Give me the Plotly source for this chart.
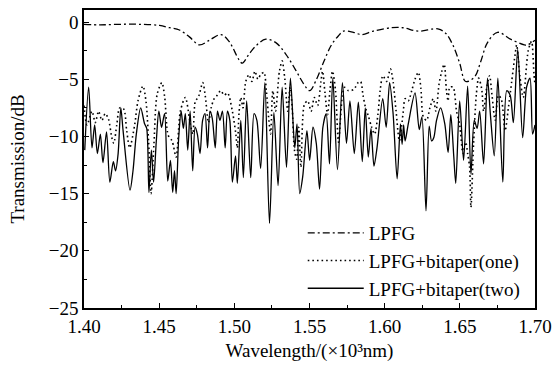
import plotly.graph_objects as go

# LPFG (dash-dot)
lpfg_x = [1.4000, 1.4106, 1.4238, 1.4370, 1.4502, 1.4569, 1.4635, 1.4701, 1.4767, 1.4833,
          1.4912, 1.4965, 1.5031, 1.5053, 1.5098, 1.5150, 1.5210, 1.5276, 1.5342, 1.5408,
          1.5461, 1.5501, 1.5547, 1.5594, 1.5646, 1.5693, 1.5726, 1.5792, 1.5846, 1.5924,
          1.6043, 1.6122, 1.6222, 1.6354, 1.6407, 1.6453, 1.6499, 1.6539, 1.6598, 1.6638,
          1.6684, 1.6751, 1.6837, 1.6929, 1.6950, 1.7000]
lpfg_y = [-0.2, -0.25, -0.2, -0.2, -0.3, -0.5, -0.7, -1.3, -2.0, -1.6,
          -1.1, -1.7, -3.3, -3.6, -2.8, -2.0, -1.5, -1.8, -2.8, -4.2,
          -5.4, -6.0, -5.0, -3.5, -2.0, -1.2, -0.8, -0.9, -1.1, -0.8,
          -0.5, -0.5, -0.8, -0.6, -1.0, -2.0, -3.6, -5.2, -4.8, -3.5,
          -1.8, -0.9, -1.5, -2.0, -2.0, -1.6]

# LPFG + bitaper (one) (dotted)
one_x = [1.4000, 1.4020, 1.4053, 1.4075, 1.4097, 1.4119, 1.4141, 1.4163, 1.4185, 1.4198,
         1.4218, 1.4238, 1.4264, 1.4284, 1.4304, 1.4337, 1.4359, 1.4392, 1.4413, 1.4430,
         1.4446, 1.4465, 1.4487, 1.4518, 1.4537, 1.4560, 1.4586, 1.4613, 1.4641, 1.4674,
         1.4707, 1.4724, 1.4741, 1.4760, 1.4790, 1.4807, 1.4828, 1.4846, 1.4866, 1.4886,
         1.4910, 1.4932, 1.4955, 1.4987, 1.5010, 1.5020, 1.5031, 1.5043, 1.5058, 1.5076,
         1.5098, 1.5117, 1.5137, 1.5157, 1.5175, 1.5197, 1.5213, 1.5230, 1.5241, 1.5256,
         1.5274, 1.5300, 1.5318, 1.5336, 1.5355, 1.5371, 1.5385, 1.5400, 1.5415, 1.5428,
         1.5443, 1.5466, 1.5488, 1.5511, 1.5532, 1.5554, 1.5576, 1.5587, 1.5603, 1.5620,
         1.5636, 1.5653, 1.5673, 1.5693, 1.5719, 1.5734, 1.5759, 1.5794, 1.5823, 1.5840,
         1.5856, 1.5873, 1.5891, 1.5911, 1.5933, 1.5955, 1.5970, 1.5988, 1.6013, 1.6038,
         1.6056, 1.6076, 1.6098, 1.6124, 1.6136, 1.6157, 1.6180, 1.6202, 1.6224, 1.6241,
         1.6257, 1.6279, 1.6301, 1.6323, 1.6341, 1.6362, 1.6378, 1.6396, 1.6411, 1.6422,
         1.6433, 1.6455, 1.6478, 1.6499, 1.6521, 1.6539, 1.6552, 1.6565, 1.6574, 1.6592,
         1.6610, 1.6625, 1.6645, 1.6658, 1.6678, 1.6698, 1.6714, 1.6735, 1.6757, 1.6777,
         1.6801, 1.6823, 1.6845, 1.6868, 1.6878, 1.6899, 1.6922, 1.6955, 1.6977, 1.6993,
         1.7000]
one_y = [-7.3, -9.0, -7.8, -8.8, -7.8, -8.6, -8.0, -8.5, -10.1, -10.6,
         -9.0, -7.5, -7.6, -9.5, -11.0, -9.0, -6.9, -5.6, -7.0, -10.5,
         -15.0, -10.7, -6.3, -5.3, -6.6, -9.9, -10.4, -11.8, -7.8, -6.6,
         -8.9, -9.8, -6.9, -6.6, -5.3, -6.5, -8.8, -7.5, -6.7, -6.4,
         -6.0, -6.4, -6.2, -7.8, -9.8, -11.0, -8.0, -6.6, -7.5, -5.2,
         -4.6, -5.2, -4.3, -5.0, -4.6, -4.4, -6.0, -8.6, -9.8, -6.0,
         -7.8, -4.3, -3.4, -5.0, -7.8, -5.7, -7.5, -11.2, -12.0, -9.2,
         -12.7, -7.2, -6.9, -7.8, -6.6, -7.3, -5.2, -4.3, -6.2, -8.1,
         -6.0, -4.3, -6.0, -10.5, -6.4, -5.7, -6.0, -5.9, -5.3, -5.2,
         -6.4, -7.5, -8.2, -9.1, -9.8, -8.1, -6.0, -4.7, -5.2, -4.1,
         -5.2, -7.8, -10.4, -7.8, -6.7, -6.9, -6.0, -5.0, -4.4, -5.8,
         -8.3, -8.6, -7.5, -6.7, -7.8, -5.4, -4.4, -3.7, -6.0, -6.9,
         -5.7, -5.7, -7.8, -9.0, -11.5, -10.5, -11.5, -12.7, -16.2, -10.5,
         -6.3, -4.9, -5.8, -7.8, -5.8, -4.7, -6.4, -8.6, -6.4, -6.8,
         -9.5, -7.5, -5.2, -2.8, -2.0, -4.7, -6.6, -2.5, -1.7, -4.5,
         -5.5]

# LPFG + bitaper (two) (solid)
two_x = [1.4005, 1.4031, 1.4053, 1.4071, 1.4089, 1.4109, 1.4126, 1.4150, 1.4172, 1.4195,
         1.4210, 1.4227, 1.4245, 1.4260, 1.4306, 1.4326, 1.4348, 1.4377, 1.4403, 1.4417,
         1.4432, 1.4448, 1.4463, 1.4481, 1.4498, 1.4516, 1.4536, 1.4557, 1.4575, 1.4590,
         1.4602, 1.4613, 1.4630, 1.4646, 1.4661, 1.4674, 1.4690, 1.4706, 1.4723, 1.4739,
         1.4754, 1.4772, 1.4789, 1.4805, 1.4822, 1.4838, 1.4853, 1.4873, 1.4888, 1.4904,
         1.4921, 1.4939, 1.4954, 1.4970, 1.4987, 1.5008, 1.5020, 1.5043, 1.5060, 1.5082,
         1.5109, 1.5131, 1.5150, 1.5175, 1.5203, 1.5234, 1.5263, 1.5291, 1.5318, 1.5347,
         1.5373, 1.5402, 1.5417, 1.5435, 1.5455, 1.5483, 1.5501, 1.5523, 1.5545, 1.5567,
         1.5589, 1.5611, 1.5633, 1.5655, 1.5686, 1.5719, 1.5746, 1.5769, 1.5798, 1.5825,
         1.5851, 1.5871, 1.5891, 1.5909, 1.5929, 1.5949, 1.5987, 1.6010, 1.6033, 1.6056,
         1.6083, 1.6105, 1.6116, 1.6126, 1.6136, 1.6157, 1.6202, 1.6230, 1.6248, 1.6275,
         1.6296, 1.6312, 1.6327, 1.6345, 1.6372, 1.6400, 1.6422, 1.6440, 1.6460, 1.6473,
         1.6499, 1.6525, 1.6552, 1.6574, 1.6596, 1.6615, 1.6632, 1.6658, 1.6684, 1.6704,
         1.6729, 1.6753, 1.6786, 1.6812, 1.6835, 1.6856, 1.6885, 1.6918, 1.6944, 1.6967,
         1.6984, 1.7000]
two_y = [-11.2, -5.7, -11.0, -9.0, -11.5, -9.8, -12.3, -9.6, -14.0, -12.2,
         -13.0, -11.5, -7.5, -9.5, -14.7, -13.0, -9.8, -7.5, -8.9, -9.3,
         -14.9, -11.2, -14.0, -10.4, -7.8, -9.2, -8.0, -13.9, -12.1, -14.9,
         -13.0, -15.0, -10.1, -7.8, -9.3, -8.0, -11.2, -7.8, -13.0, -9.2,
         -9.8, -11.5, -8.6, -8.0, -11.0, -7.8, -8.4, -11.0, -7.8, -8.6,
         -7.8, -11.0, -7.8, -8.6, -14.0, -11.7, -14.1, -8.6, -13.6, -6.9,
         -13.6, -8.0, -8.6, -12.8, -5.3, -17.6, -7.9, -14.3, -5.7, -12.7,
         -4.9, -11.0, -8.9, -15.0, -13.5, -9.5, -12.1, -9.2, -10.6, -14.6,
         -9.2, -8.0, -12.4, -4.9, -12.9, -5.3, -10.6, -6.9, -11.5, -7.0,
         -12.2, -7.5, -11.8, -9.3, -12.6, -11.0, -6.7, -9.2, -5.3, -8.0,
         -13.7, -8.9, -10.7, -9.0, -10.4, -8.9, -6.2, -9.4, -8.3, -16.5,
         -9.1, -10.4, -10.1, -8.6, -7.5, -8.9, -11.4, -8.1, -11.8, -14.1,
         -6.9, -12.1, -5.6, -13.3, -8.6, -9.3, -7.8, -12.4, -4.9, -8.2,
         -11.7, -4.9, -14.0, -6.0, -6.4, -8.8, -2.4, -10.1, -5.7, -4.9,
         -9.8, -9.0]

x_ticks = [1.40, 1.45, 1.50, 1.55, 1.60, 1.65, 1.70]
y_ticks = [0, -5, -10, -15, -20, -25]

FONT = "Liberation Serif"
FS = 19

fig = go.Figure()
fig.add_trace(go.Scatter(x=lpfg_x, y=lpfg_y, mode="lines", name="LPFG",
                         line=dict(color="black", width=1.3, dash="7px,3px,2px,3px", shape="spline", smoothing=1.0)))
fig.add_trace(go.Scatter(x=one_x, y=one_y, mode="lines", name="LPFG+bitaper(one)",
                         line=dict(color="black", width=1.6, dash="1.6px,3px", shape="spline", smoothing=0.8)))
fig.add_trace(go.Scatter(x=two_x, y=two_y, mode="lines", name="LPFG+bitaper(two)",
                         line=dict(color="black", width=1.3, shape="spline", smoothing=0.8)))

axis_common = dict(
    showgrid=False, zeroline=False, showline=True, linecolor="black", linewidth=1.5,
    mirror=True, ticks="inside", ticklen=5, tickwidth=1, tickcolor="black",
    tickfont=dict(family=FONT, size=FS, color="black"),
    minor=dict(ticks="inside", ticklen=3, tickwidth=1, tickcolor="black"),
)

fig.update_xaxes(range=[1.40, 1.70], tickvals=x_ticks, tickformat=".2f",
                 minor_dtick=0.025,
                 title=dict(text="Wavelength/(×10³nm)", font=dict(family=FONT, size=FS, color="black"), standoff=8),
                 **axis_common)
fig.update_yaxes(range=[-25, 1.05], tickvals=y_ticks,
                 minor_dtick=2.5,
                 title=dict(text="Transmission/dB", font=dict(family=FONT, size=FS, color="black"), standoff=19),
                 **axis_common)

fig.update_layout(
    width=560, height=375,
    margin=dict(l=84, r=22, t=8, b=67),
    paper_bgcolor="white", plot_bgcolor="white",
    font=dict(family=FONT, size=FS, color="black"),
    showlegend=True,
    legend=dict(x=0.485, y=0.0, xanchor="left", yanchor="bottom",
                bgcolor="rgba(0,0,0,0)", font=dict(family=FONT, size=FS, color="black"),
                itemwidth=56, tracegroupgap=0),
)

fig.write_html("out.html")
